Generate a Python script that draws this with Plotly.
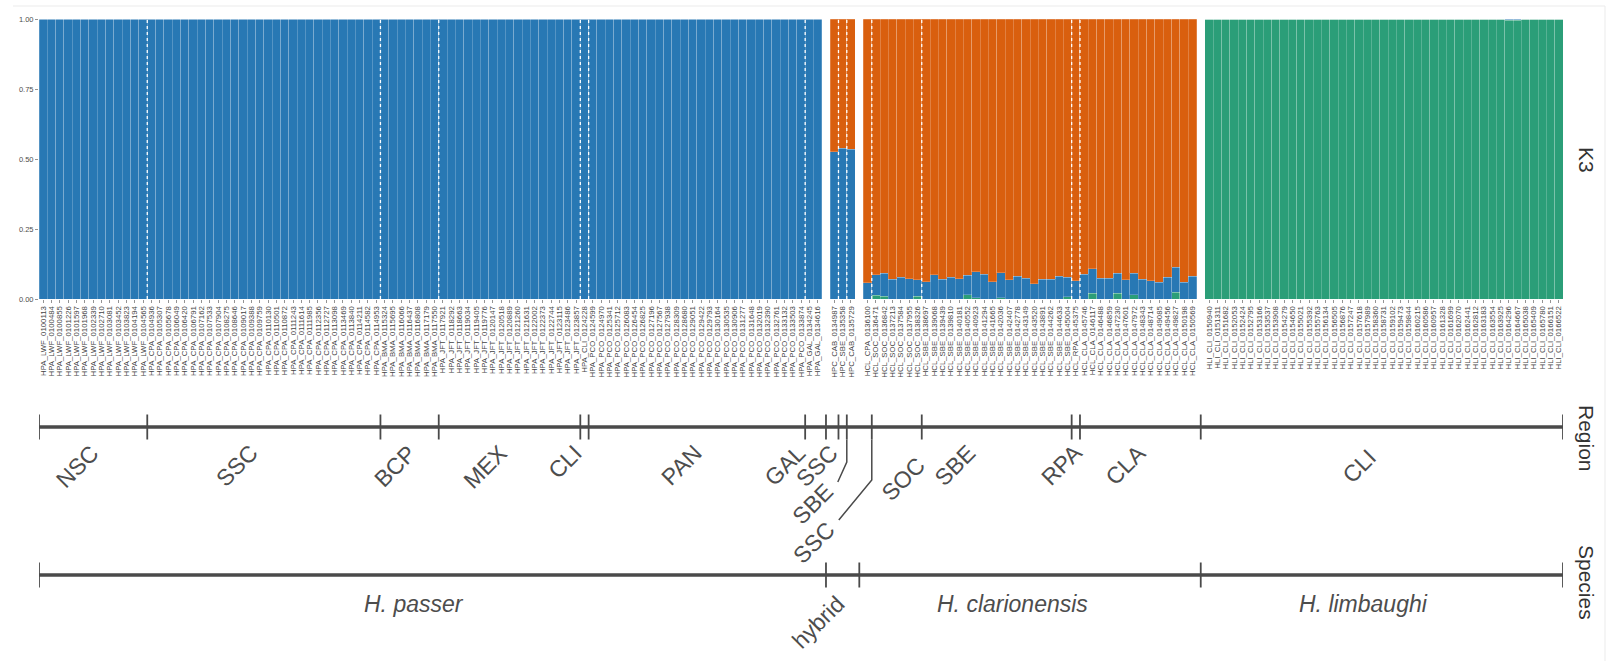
import plotly.graph_objects as go

# ---------------- data ----------------
species = ["H. passer", "hybrid", "H. clarionensis", "H. limbaughi"]
species_prefix = ["HPA", "HPC", "HCL", "HLI"]

passer_regions = ["NSC", "SSC", "BCP", "MEX", "CLI", "PAN", "GAL"]
passer_counts = [13, 28, 7, 17, 1, 26, 2]
passer_sites = ["LWF", "CPA", "BMA", "JFT", "CLI", "PCO", "GAL"]

hybrid_regions = ["SSC", "SBE", "SSC"]
hybrid_counts = [1, 1, 1]
hybrid_sites = ["CAB", "SBE", "CAB"]

clar_regions = ["SSC", "SOC", "SBE", "RPA", "CLA"]
clar_counts = [1, 6, 18, 1, 14]
clar_sites = ["CPA", "SOC", "SBE", "RPA", "CLA"]

limb_regions = ["CLI"]
limb_counts = [43]
limb_sites = ["CLI"]

# ancestry proportions (K = 3): green, blue, orange clusters
passer_green = [
    0.0, 0.0, 0.0, 0.0, 0.0, 0.0, 0.0, 0.0, 0.0, 0.0, 0.0, 0.0, 0.0,
    0.0, 0.0, 0.0, 0.0, 0.0, 0.0, 0.0, 0.0, 0.0, 0.0, 0.0, 0.0, 0.0, 0.0,
    0.0, 0.0, 0.0, 0.0, 0.0, 0.0, 0.0, 0.0, 0.0, 0.0, 0.0, 0.0, 0.0, 0.0,
    0.0, 0.0, 0.0, 0.0, 0.0, 0.0, 0.0,
    0.0, 0.0, 0.0, 0.0, 0.0, 0.0, 0.0, 0.0, 0.0, 0.0, 0.0, 0.0, 0.0, 0.0, 0.0, 0.0, 0.0,
    0.0,
    0.0, 0.0, 0.0, 0.0, 0.0, 0.0, 0.0, 0.0, 0.0, 0.0, 0.0, 0.0, 0.0,
    0.0, 0.0, 0.0, 0.0, 0.0, 0.0, 0.0, 0.0, 0.0, 0.0, 0.0, 0.0, 0.0,
    0.0, 0.0,
]
passer_blue = [
    1.0, 1.0, 1.0, 1.0, 1.0, 1.0, 1.0, 1.0, 1.0, 1.0, 1.0, 1.0, 1.0,
    1.0, 1.0, 1.0, 1.0, 1.0, 1.0, 1.0, 1.0, 1.0, 1.0, 1.0, 1.0, 1.0, 1.0,
    1.0, 1.0, 1.0, 1.0, 1.0, 1.0, 1.0, 1.0, 1.0, 1.0, 1.0, 1.0, 1.0, 1.0,
    1.0, 1.0, 1.0, 1.0, 1.0, 1.0, 1.0,
    1.0, 1.0, 1.0, 1.0, 1.0, 1.0, 1.0, 1.0, 1.0, 1.0, 1.0, 1.0, 1.0, 1.0, 1.0, 1.0, 1.0,
    1.0,
    1.0, 1.0, 1.0, 1.0, 1.0, 1.0, 1.0, 1.0, 1.0, 1.0, 1.0, 1.0, 1.0,
    1.0, 1.0, 1.0, 1.0, 1.0, 1.0, 1.0, 1.0, 1.0, 1.0, 1.0, 1.0, 1.0,
    1.0, 1.0,
]
passer_orange = list(passer_green)

hybrid_green = [0.0, 0.0, 0.0]
hybrid_blue = [0.526, 0.538, 0.535]
hybrid_orange = [0.474, 0.462, 0.465]

clar_green = [
    0.0, 0.014, 0.010, 0.0, 0.0, 0.0, 0.010, 0.0, 0.0, 0.0,
    0.0, 0.0, 0.015, 0.005, 0.0, 0.0, 0.005, 0.0, 0.0, 0.0,
    0.0, 0.0, 0.0, 0.0, 0.008, 0.0, 0.0, 0.020, 0.0, 0.0,
    0.020, 0.0, 0.015, 0.0, 0.0, 0.0, 0.0, 0.025, 0.0, 0.0,
]
clar_blue = [
    0.058, 0.072, 0.082, 0.070, 0.077, 0.073, 0.058, 0.062, 0.086, 0.070,
    0.077, 0.073, 0.070, 0.093, 0.089, 0.062, 0.089, 0.068, 0.082, 0.075,
    0.054, 0.070, 0.070, 0.082, 0.069, 0.065, 0.089, 0.088, 0.074, 0.074,
    0.072, 0.068, 0.077, 0.070, 0.065, 0.060, 0.077, 0.088, 0.060, 0.082,
]
clar_orange = [
    0.942, 0.914, 0.908, 0.930, 0.923, 0.927, 0.932, 0.938, 0.914, 0.930,
    0.923, 0.927, 0.915, 0.902, 0.911, 0.938, 0.906, 0.932, 0.918, 0.925,
    0.946, 0.930, 0.930, 0.918, 0.923, 0.935, 0.911, 0.892, 0.926, 0.926,
    0.908, 0.932, 0.908, 0.930, 0.935, 0.940, 0.923, 0.887, 0.940, 0.918,
]

limb_green = [
    1.0, 1.0, 1.0, 1.0, 1.0, 1.0, 1.0, 1.0, 1.0, 1.0,
    1.0, 1.0, 1.0, 1.0, 1.0, 1.0, 1.0, 1.0, 1.0, 1.0,
    1.0, 1.0, 1.0, 1.0, 1.0, 1.0, 1.0, 1.0, 1.0, 1.0,
    1.0, 1.0, 1.0, 1.0, 1.0, 1.0, 0.996, 0.996, 1.0, 1.0,
    1.0, 1.0, 1.0,
]
limb_blue = [
    0.0, 0.0, 0.0, 0.0, 0.0, 0.0, 0.0, 0.0, 0.0, 0.0,
    0.0, 0.0, 0.0, 0.0, 0.0, 0.0, 0.0, 0.0, 0.0, 0.0,
    0.0, 0.0, 0.0, 0.0, 0.0, 0.0, 0.0, 0.0, 0.0, 0.0,
    0.0, 0.0, 0.0, 0.0, 0.0, 0.0, 0.004, 0.004, 0.0, 0.0,
    0.0, 0.0, 0.0,
]
limb_orange = [
    0.0, 0.0, 0.0, 0.0, 0.0, 0.0, 0.0, 0.0, 0.0, 0.0,
    0.0, 0.0, 0.0, 0.0, 0.0, 0.0, 0.0, 0.0, 0.0, 0.0,
    0.0, 0.0, 0.0, 0.0, 0.0, 0.0, 0.0, 0.0, 0.0, 0.0,
    0.0, 0.0, 0.0, 0.0, 0.0, 0.0, 0.0, 0.0, 0.0, 0.0,
    0.0, 0.0, 0.0,
]

y_tick_vals = [0, 0.25, 0.5, 0.75, 1.0]
y_tick_text = ["0.00", "0.25", "0.50", "0.75", "1.00"]

# ---------------- styling ----------------
W, H = 1608, 661
FONT = "Liberation Sans, Arial, Helvetica, sans-serif"
BLUE, ORANGE, GREEN = "#2878b4", "#d95f0e", "#2b9e78"
TXT = "#4d4d4d"
LINE = "#4a4a4a"
GAP = 1.0
X_LEFT_PX, X_RIGHT_PX = 39, 1563
BAR_TOP_PX, BAR_BOT_PX = 19, 299
REGION_Y_PX, SPECIES_Y_PX = 427, 575
TICK_HALF_PX = 12.5
LABEL_DROP = -10            # base vertical offset of rotated labels below the line (px)
LABEL_XS = 5                # base horizontal offset (px)
LABEL_SIZE = 23
# label repel nudges (px) per region run index, mimicking the original layout
nudge = {0: (9, 0), 1: (-4, 0), 2: (9, 0), 5: (8, 0), 6: (-7, 0), 7: (8, 0), 10: (31, -12),
         11: (-18, 0), 12: (9, 0), 13: (8, 0), 14: (-3, -4)}
# repelled labels with leader lines: run index -> (knee drop px, label dx px, label drop px)
repel = {8: (35, -9, 55), 9: (53, -33, 93)}

sp_regions = [passer_regions, hybrid_regions, clar_regions, limb_regions]
sp_counts_by_region = [passer_counts, hybrid_counts, clar_counts, limb_counts]
sp_sites = [passer_sites, hybrid_sites, clar_sites, limb_sites]
sp_green = [passer_green, hybrid_green, clar_green, limb_green]
sp_blue = [passer_blue, hybrid_blue, clar_blue, limb_blue]
sp_orange = [passer_orange, hybrid_orange, clar_orange, limb_orange]
sp_counts = [sum(c) for c in sp_counts_by_region]
N = sum(sp_counts)
X_MAX = N + GAP * (len(sp_counts) - 1)
PX_PER_UNIT = (X_RIGHT_PX - X_LEFT_PX) / X_MAX


def xpos(i):
    """x coordinate of a boundary after i individuals (gap midpoint between panels)."""
    end = 0
    for p, c in enumerate(sp_counts):
        start, end = end, end + c
        if i < end or (i == end and p == len(sp_counts) - 1):
            return i + p * GAP
        if i == end:
            return i + p * GAP + GAP / 2
    return X_MAX


def py(px):
    return 1 - px / H


# ---------------- bars ----------------
xs, names, g_all, b_all, o_all, reg_seq = [], [], [], [], [], []
start = 0
num = 100113
for p in range(4):
    j = 0
    for reg, cnt, site in zip(sp_regions[p], sp_counts_by_region[p], sp_sites[p]):
        for k in range(cnt):
            xs.append(start + j + 0.5 + p * GAP)
            names.append(f"{species_prefix[p]}_{site}_{num:07d}")
            reg_seq.append(reg)
            num += 371
            j += 1
    g_all += sp_green[p]
    b_all += sp_blue[p]
    o_all += sp_orange[p]
    start += sp_counts[p]

fig = go.Figure()
sep = dict(color="rgba(255,255,255,0.35)", width=0.6)
for vals, col in [(g_all, GREEN), (b_all, BLUE), (o_all, ORANGE)]:
    fig.add_trace(go.Bar(x=xs, y=vals, width=1.0, marker=dict(color=col, line=sep),
                         hoverinfo="skip", showlegend=False))

shapes = []
annotations = []

# dashed white region separators inside each species panel
start = 0
for p in range(4):
    cum = start
    for cnt in sp_counts_by_region[p][:-1]:
        cum += cnt
        xb = xpos(cum)
        shapes.append(dict(type="line", xref="x", yref="y", x0=xb, x1=xb, y0=0, y1=1,
                           line=dict(color="white", width=1.3, dash="dot")))
    start += sp_counts[p]

# ---------------- region annotation line ----------------
runs = []
for i, r in enumerate(reg_seq):
    if runs and runs[-1][0] == r:
        runs[-1][2] = i + 1
    else:
        runs.append([r, i, i + 1])

yr = py(REGION_Y_PX)
th = TICK_HALF_PX / H
shapes.append(dict(type="line", xref="x", yref="paper", x0=0, x1=X_MAX, y0=yr, y1=yr,
                   line=dict(color=LINE, width=3.5)))
bounds = sorted(set([0] + [r[2] for r in runs]))
for bnd in bounds:
    xb = xpos(bnd)
    shapes.append(dict(type="line", xref="x", yref="paper", x0=xb, x1=xb, y0=yr - th, y1=yr + th,
                       line=dict(color=LINE, width=1.8)))

for ri, (reg, a, b) in enumerate(runs):
    xc = (xpos(a) + xpos(b)) / 2
    if ri in repel:
        knee, dx, drop = repel[ri]
        x0 = xpos(b)
        x2 = x0 + dx / PX_PER_UNIT
        y0 = yr - th
        y1 = yr - knee / H
        y2 = yr - drop / H
        shapes.append(dict(type="path", xref="x", yref="paper",
                           path=f"M {x0},{y0} L {x0},{y1} L {x2},{y2}",
                           line=dict(color=LINE, width=1.5)))
        annotations.append(dict(x=x2, y=y2, xref="x", yref="paper", text=reg, showarrow=False,
                                textangle=-45, xanchor="right", yanchor="top", xshift=3, yshift=6,
                                font=dict(size=LABEL_SIZE, color=TXT, family=FONT)))
    else:
        ndx, ndy = nudge.get(ri, (0, 0))
        annotations.append(dict(x=xc, y=yr, xref="x", yref="paper", text=reg, showarrow=False,
                                textangle=-45, xanchor="right", yanchor="top",
                                yshift=LABEL_DROP + ndy, xshift=LABEL_XS + ndx,
                                font=dict(size=LABEL_SIZE, color=TXT, family=FONT)))

# ---------------- species annotation line ----------------
ys = py(SPECIES_Y_PX)
shapes.append(dict(type="line", xref="x", yref="paper", x0=0, x1=X_MAX, y0=ys, y1=ys,
                   line=dict(color=LINE, width=3.5)))
sp_bounds = [0]
for c in sp_counts:
    sp_bounds.append(sp_bounds[-1] + c)
for bnd in sp_bounds:
    xb = xpos(bnd)
    shapes.append(dict(type="line", xref="x", yref="paper", x0=xb, x1=xb, y0=ys - th, y1=ys + th,
                       line=dict(color=LINE, width=1.8)))
for p, name in enumerate(species):
    xc = (xpos(sp_bounds[p]) + xpos(sp_bounds[p + 1])) / 2
    if name == "hybrid":
        annotations.append(dict(x=xc, y=ys, xref="x", yref="paper", text=name, showarrow=False,
                                textangle=-45, xanchor="right", yanchor="top", yshift=-13, xshift=10,
                                font=dict(size=LABEL_SIZE, color=TXT, family=FONT)))
    else:
        annotations.append(dict(x=xc, y=ys, xref="x", yref="paper", text=f"<i>{name}</i>",
                                showarrow=False, xanchor="center", yanchor="top", yshift=-14,
                                xshift=-18, font=dict(size=23, color=TXT, family=FONT)))

# ---------------- facet strip labels (right) ----------------
for txt, ypx in [("K3", (BAR_TOP_PX + BAR_BOT_PX) / 2 + 1), ("Region", 438), ("Species", 582)]:
    annotations.append(dict(x=1587 / W, y=py(ypx), xref="paper", yref="paper", text=txt,
                            showarrow=False, textangle=90, xanchor="center", yanchor="middle",
                            font=dict(size=21, color="#333333", family=FONT)))

# light frame (top and right edge)
shapes.append(dict(type="line", xref="paper", yref="paper", x0=13 / W, x1=1605 / W,
                   y0=py(6), y1=py(6), line=dict(color="#ebebeb", width=1)))
shapes.append(dict(type="line", xref="paper", yref="paper", x0=1605 / W, x1=1605 / W,
                   y0=py(6), y1=0, line=dict(color="#ebebeb", width=1)))

fig.update_layout(
    width=W, height=H, margin=dict(l=0, r=0, t=0, b=0),
    barmode="stack", bargap=0, plot_bgcolor="white", paper_bgcolor="white",
    showlegend=False, font=dict(family=FONT, color=TXT),
    xaxis=dict(domain=[X_LEFT_PX / W, X_RIGHT_PX / W], range=[0, X_MAX],
               tickmode="array", tickvals=xs, ticktext=names, tickangle=-90,
               tickfont=dict(size=7.8, color="#444444", family=FONT),
               ticks="outside", ticklen=3, tickwidth=0.6, tickcolor=TXT,
               showgrid=False, zeroline=False, showline=False, automargin=False, fixedrange=True),
    yaxis=dict(domain=[py(BAR_BOT_PX), py(BAR_TOP_PX)], range=[0, 1],
               tickmode="array", tickvals=y_tick_vals, ticktext=y_tick_text,
               tickfont=dict(size=7.5, color=TXT, family=FONT),
               ticks="outside", ticklen=3, tickwidth=0.6, tickcolor=TXT,
               showgrid=False, zeroline=False, showline=False, automargin=False, fixedrange=True),
    shapes=shapes, annotations=annotations,
)

fig.write_html(
    "out.html",
    config={"displayModeBar": False, "staticPlot": True},
    post_script="document.body.style.margin='0';document.body.style.overflow='hidden';",
)
